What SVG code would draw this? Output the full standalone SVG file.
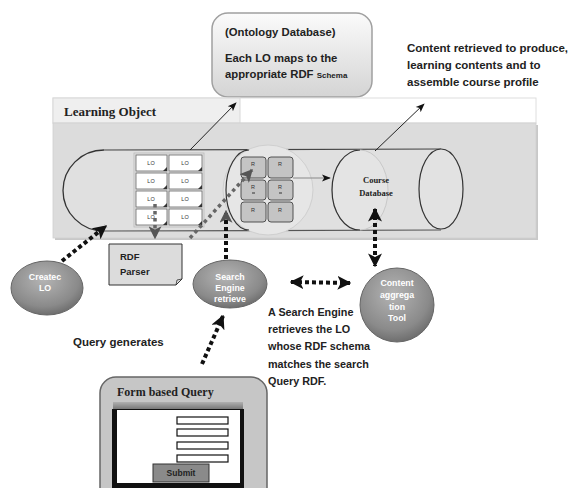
<svg xmlns="http://www.w3.org/2000/svg" width="574" height="488" viewBox="0 0 574 488">
<style>
.sans{font-family:"Liberation Sans",Arial,sans-serif;font-weight:bold;fill:#222}
.serif{font-family:"Liberation Serif","Times New Roman",serif;font-weight:bold;fill:#222}
.wt{font-family:"Liberation Sans",Arial,sans-serif;font-weight:bold;fill:#fff;font-size:8.8px;text-anchor:middle}
.lo{fill:#fff;stroke:#666;stroke-width:0.8}
.lot{font-family:"Liberation Sans",Arial,sans-serif;font-size:5.5px;fill:#333;text-anchor:middle}
.r{fill:#c4c4c4;stroke:#444;stroke-width:0.9}
.thin{stroke:#222;stroke-width:1;fill:none}
.dotk{stroke:#111;stroke-width:4;stroke-dasharray:4 3;fill:none}
.dotg{stroke:#666;stroke-width:3.5;stroke-dasharray:3.5 3.5;fill:none}
.inp{fill:#fff;stroke:#111;stroke-width:1.2}
</style>
<defs>
<linearGradient id="gOnt" x1="0" y1="0" x2="0" y2="1"><stop offset="0" stop-color="#fbfbfb"/><stop offset="1" stop-color="#d4d4d4"/></linearGradient>
<radialGradient id="gBall" cx="0.45" cy="0.35" r="0.7"><stop offset="0" stop-color="#b4b4b4"/><stop offset="0.7" stop-color="#8a8a8a"/><stop offset="1" stop-color="#666"/></radialGradient>
<linearGradient id="gBar" x1="0" y1="0" x2="0" y2="1"><stop offset="0" stop-color="#b0b0b0"/><stop offset="1" stop-color="#707070"/></linearGradient>
<marker id="aBig" viewBox="0 0 10 10" refX="9" refY="5" markerWidth="14" markerHeight="14" markerUnits="userSpaceOnUse" orient="auto-start-reverse"><path d="M0,0 L10,5 L0,10 L2.5,5 z" fill="#111"/></marker>
<marker id="aGray" viewBox="0 0 10 10" refX="9" refY="5" markerWidth="13" markerHeight="13" markerUnits="userSpaceOnUse" orient="auto-start-reverse"><path d="M0,0 L10,5 L0,10 L2.5,5 z" fill="#555"/></marker>
<marker id="aSm" viewBox="0 0 10 10" refX="9" refY="5" markerWidth="9" markerHeight="9" markerUnits="userSpaceOnUse" orient="auto"><path d="M0,1 L10,5 L0,9 L2.5,5 z" fill="#111"/></marker>
</defs>
<rect width="574" height="488" fill="#fff"/>

<g id="ontology">
<rect x="212" y="13" width="160" height="84" rx="16" fill="url(#gOnt)" stroke="#a0a0a0" stroke-width="1.5"/>
<text class="sans" x="225" y="36" font-size="11.3">(Ontology Database)</text>
<text class="sans" x="225" y="62" font-size="11.3">Each LO maps to the</text>
<text class="sans" x="225" y="78" font-size="11.3">appropriate RDF <tspan font-size="8">Schema</tspan></text>
</g>

<g id="content-note">
<text class="sans" x="407" y="52" font-size="11.5">Content retrieved to produce,</text>
<text class="sans" x="407" y="69" font-size="11.5">learning contents and to</text>
<text class="sans" x="407" y="86" font-size="11.5">assemble course profile</text>
</g>

<g id="learning-object">
<rect x="53" y="98" width="483" height="25" fill="#fff" stroke="#dedede" stroke-width="1"/>
<rect x="53" y="98" width="187" height="25" fill="#efefef" stroke="#d8d8d8" stroke-width="1"/>
<text class="serif" x="64" y="116" font-size="13">Learning Object</text>
<rect x="55" y="125" width="483" height="115" fill="#c8c8c8"/>
<rect x="53" y="123" width="483" height="115" fill="#dcdcdc" stroke="#d0d0d0" stroke-width="0.8"/>
<path d="M104,150 L441,149 L441,230 L104,231 A41,40.5 0 0 1 104,150 z" fill="#e0e0e0"/>
<path d="M104,150 A41,40.5 0 0 0 104,231" fill="none" stroke="#333" stroke-width="1.3"/>
<line x1="104" y1="150" x2="441" y2="149" stroke="#444" stroke-width="1.2"/>
<line x1="104" y1="231" x2="441" y2="230" stroke="#555" stroke-width="1.2"/>
<circle cx="268" cy="190" r="45" fill="#e6e6e6" stroke="#cfcfcf" stroke-width="1"/>
<path d="M249,150 A23,40 0 0 0 249,230" fill="none" stroke="#333" stroke-width="1.2"/>
<ellipse cx="360" cy="190" rx="28" ry="40" fill="#e4e4e4" stroke="#c8c8c8" stroke-width="1"/>
<path d="M360,150 A28,40 0 0 0 360,230" fill="none" stroke="#333" stroke-width="1.2"/>
<ellipse cx="441" cy="189" rx="22" ry="40" fill="#e2e2e2" stroke="#333" stroke-width="1.2"/>
<text class="serif" x="376" y="183" font-size="8.5" text-anchor="middle">Course</text>
<text class="serif" x="376" y="196" font-size="8.5" text-anchor="middle">Database</text>
</g>

<g id="lo-grid">
<rect x="134" y="153" width="70" height="74" fill="none" stroke="#bbb" stroke-width="0.8"/>
<rect class="lo" x="136" y="155" width="31" height="16"/><text class="lot" x="151" y="165">LO</text>
<rect class="lo" x="169" y="155" width="33" height="16"/><text class="lot" x="185" y="165">LO</text>
<rect class="lo" x="136" y="173" width="31" height="16"/><text class="lot" x="151" y="183">LO</text>
<rect class="lo" x="169" y="173" width="33" height="16"/><text class="lot" x="185" y="183">LO</text>
<rect class="lo" x="136" y="191" width="31" height="16"/><text class="lot" x="151" y="201">LO</text>
<rect class="lo" x="169" y="191" width="33" height="16"/><text class="lot" x="185" y="201">LO</text>
<rect class="lo" x="136" y="209" width="31" height="16"/><text class="lot" x="151" y="219">LO</text>
<rect class="lo" x="169" y="209" width="33" height="16"/><text class="lot" x="185" y="219">LO</text>
<g fill="#333">
<path d="M167,167 L167,171 L163,171 z"/><path d="M202,167 L202,171 L198,171 z"/>
<path d="M167,185 L167,189 L163,189 z"/><path d="M202,185 L202,189 L198,189 z"/>
<path d="M167,203 L167,207 L163,207 z"/><path d="M202,203 L202,207 L198,207 z"/>
<path d="M167,221 L167,225 L163,225 z"/><path d="M202,221 L202,225 L198,225 z"/>
</g>
</g>

<g id="r-grid">
<rect class="r" x="241" y="157" width="25" height="21" rx="3"/><text class="lot" x="253" y="166">R</text>
<rect class="r" x="268" y="157" width="25" height="21" rx="3"/><text class="lot" x="280" y="166">R</text>
<rect class="r" x="241" y="180" width="25" height="20" rx="3"/><text class="lot" x="253" y="189">R</text><line x1="252" y1="193" x2="255" y2="193" stroke="#333"/>
<rect class="r" x="268" y="180" width="25" height="20" rx="3"/><text class="lot" x="280" y="189">R</text><line x1="279" y1="193" x2="282" y2="193" stroke="#333"/>
<rect class="r" x="241" y="202" width="25" height="20" rx="3"/><text class="lot" x="253" y="212">R</text>
<rect class="r" x="268" y="202" width="25" height="20" rx="3"/><text class="lot" x="280" y="212">R</text>
</g>

<g id="rdf-parser">
<path d="M109,244 L182,244 L182,279 L176,285 L109,285 z" fill="#dcdcdc" stroke="#333" stroke-width="1"/>
<path d="M176,285 L177,280 L182,279" fill="none" stroke="#333" stroke-width="0.8"/>
<text class="sans" x="120" y="260" font-size="9.5">RDF</text>
<text class="sans" x="120" y="275" font-size="9.5">Parser</text>
</g>

<g id="creates-lo">
<ellipse cx="47" cy="288" rx="36" ry="27" fill="url(#gBall)" stroke="#666" stroke-width="1"/>
<text class="wt" x="45" y="280">Createc</text>
<text class="wt" x="45" y="291">LO</text>
</g>

<g id="search-engine">
<ellipse cx="230" cy="284" rx="37" ry="24" fill="url(#gBall)" stroke="#666" stroke-width="1"/>
<text class="wt" x="230" y="280">Search</text>
<text class="wt" x="230" y="291">Engine</text>
<text class="wt" x="230" y="302">retrieve</text>
</g>

<g id="content-aggregation">
<circle cx="397" cy="305" r="37" fill="url(#gBall)" stroke="#666" stroke-width="1"/>
<text class="wt" x="397" y="286">Content</text>
<text class="wt" x="397" y="298">aggrega</text>
<text class="wt" x="397" y="310">tion</text>
<text class="wt" x="397" y="321">Tool</text>
</g>

<g id="labels">
<text class="sans" x="73" y="346" font-size="11.5">Query generates</text>
<text class="sans" x="268" y="316" font-size="10.8">A Search Engine</text>
<text class="sans" x="268" y="333" font-size="10.8">retrieves the LO</text>
<text class="sans" x="268" y="350" font-size="10.8">whose RDF schema</text>
<text class="sans" x="268" y="368" font-size="10.8">matches the search</text>
<text class="sans" x="268" y="385" font-size="10.8">Query RDF.</text>
</g>

<g id="form-query">
<rect x="100" y="377" width="167" height="130" rx="16" fill="#c6c6c6" stroke="#666" stroke-width="1.5"/>
<text class="serif" x="117" y="396" font-size="12">Form based Query</text>
<rect x="113" y="402" width="130" height="8" fill="url(#gBar)"/>
<rect x="112" y="409" width="132" height="79" fill="#111"/>
<rect x="117" y="410" width="123" height="73" fill="#fff"/>
<rect class="inp" x="177" y="417" width="51" height="7"/>
<rect class="inp" x="177" y="429" width="51" height="7"/>
<rect class="inp" x="177" y="442" width="51" height="7"/>
<rect class="inp" x="177" y="455" width="51" height="7"/>
<rect x="153" y="464" width="56" height="18" fill="#8a8a8a" stroke="#333" stroke-width="1"/>
<text class="sans" x="181" y="476" font-size="8.5" text-anchor="middle">Submit</text>
</g>

<g id="connectors">
<line class="thin" x1="190" y1="150" x2="236" y2="103" marker-end="url(#aSm)"/>
<line class="thin" x1="375" y1="151" x2="424" y2="104" marker-end="url(#aSm)"/>
<line x1="293" y1="178" x2="330" y2="178" stroke="#888" stroke-width="1" marker-end="url(#aSm)"/>
<line class="dotk" x1="62" y1="261" x2="106" y2="226" marker-end="url(#aBig)"/>
<line class="dotg" x1="155" y1="204" x2="155" y2="238" marker-end="url(#aGray)"/>
<line class="dotg" x1="190" y1="238" x2="252" y2="170" marker-end="url(#aGray)"/>
<line class="dotk" x1="226" y1="259" x2="226" y2="211" marker-end="url(#aGray)"/>
<line class="dotk" x1="375" y1="209" x2="375" y2="266" marker-start="url(#aBig)" marker-end="url(#aBig)"/>
<line class="dotk" x1="291" y1="282" x2="350" y2="283" marker-start="url(#aBig)" marker-end="url(#aBig)"/>
<line class="dotk" x1="202" y1="364" x2="223" y2="316" marker-end="url(#aBig)"/>
</g>
</svg>
